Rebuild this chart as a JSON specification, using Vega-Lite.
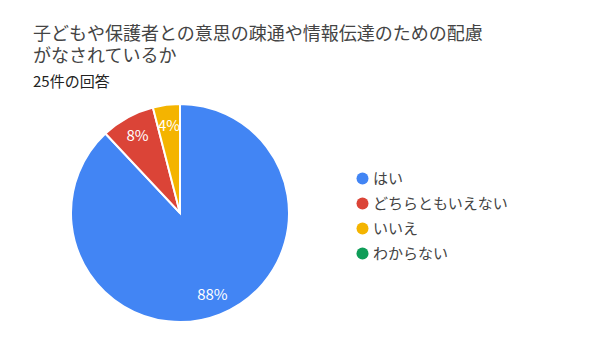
{
  "$schema": "https://vega.github.io/schema/vega-lite/v6.json",
  "width": 218,
  "height": 218,
  "autosize": {"type": "none"},
  "padding": {"left": 71, "top": 104, "right": 311, "bottom": 42},
  "background": "white",
  "title": {
    "text": ["子どもや保護者との意思の疎通や情報伝達のための配慮", "がなされているか"],
    "subtitle": "25件の回答",
    "anchor": "start",
    "frame": "group",
    "dx": -38,
    "offset": 10,
    "font": "Noto Sans CJK JP",
    "fontSize": 18,
    "fontWeight": "normal",
    "color": "#444444",
    "lineHeight": 22,
    "subtitleFont": "Noto Sans CJK JP",
    "subtitleFontSize": 15,
    "subtitleColor": "#222222",
    "subtitlePadding": 9
  },
  "data": {
    "values": [
      {"回答": "はい", "割合": 0.88},
      {"回答": "どちらともいえない", "割合": 0.08},
      {"回答": "いいえ", "割合": 0.04},
      {"回答": "わからない", "割合": 0}
    ]
  },
  "encoding": {
    "theta": {"field": "割合", "type": "quantitative", "stack": true},
    "order": {"field": "割合", "type": "quantitative", "sort": "descending"},
    "color": {
      "field": "回答",
      "type": "nominal",
      "sort": ["はい", "どちらともいえない", "いいえ", "わからない"],
      "scale": {
        "domain": ["はい", "どちらともいえない", "いいえ", "わからない"],
        "range": ["#4285F4", "#DB4437", "#F4B400", "#0F9D58"]
      },
      "legend": {
        "orient": "none",
        "legendX": 284,
        "legendY": 67,
        "title": null,
        "padding": 0,
        "symbolType": "circle",
        "symbolSize": 144,
        "symbolStrokeWidth": 0,
        "symbolOpacity": 1,
        "labelFont": "Noto Sans CJK JP",
        "labelFontSize": 15,
        "labelColor": "#444444",
        "labelOffset": 3,
        "rowPadding": 9
      }
    }
  },
  "layer": [
    {
      "mark": {"type": "arc", "stroke": "white", "strokeWidth": 2}
    },
    {
      "transform": [{"filter": "datum['割合'] > 0"}],
      "mark": {"type": "text", "radius": 88, "font": "Noto Sans CJK JP", "fontSize": 15, "fill": "white"},
      "encoding": {
        "text": {"field": "割合", "type": "quantitative", "format": ".0%"},
        "color": {"value": "white"}
      }
    }
  ],
  "config": {"view": {"stroke": null}}
}
